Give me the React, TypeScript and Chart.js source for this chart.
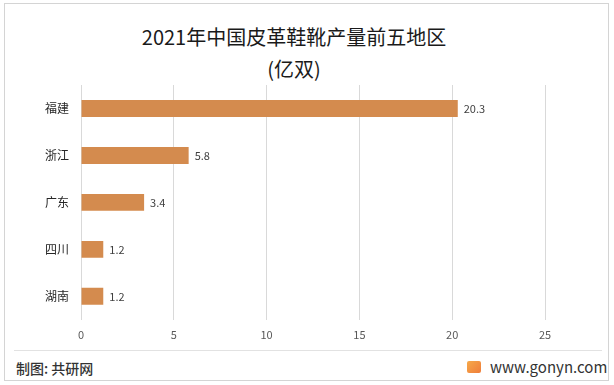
import React, { useEffect, useRef } from "react";
import { Chart, registerables } from "chart.js";

Chart.register(...registerables);

const categories = ["福建", "浙江", "广东", "四川", "湖南"];
const values = [20.3, 5.8, 3.4, 1.2, 1.2];
const titleLines = ["2021年中国皮革鞋靴产量前五地区", "(亿双)"];
const xMax = 25;
const xStep = 5;
const footerLeft = "制图: 共研网";
const footerRight = "www.gonyn.com";

const FONT = "'Noto Sans CJK SC', 'Noto Sans', sans-serif";

const valueLabels = {
  id: "valueLabels",
  afterDatasetsDraw(chart: any) {
    const ctx = chart.ctx;
    const meta = chart.getDatasetMeta(0);
    ctx.save();
    ctx.font = `11px ${FONT}`;
    ctx.fillStyle = "#404040";
    ctx.textAlign = "left";
    ctx.textBaseline = "middle";
    meta.data.forEach((bar: any, i: number) => {
      ctx.fillText(String(values[i]), bar.x + 6, bar.y);
    });
    ctx.restore();
  },
};

export default function App() {
  const ref = useRef<HTMLCanvasElement>(null);
  useEffect(() => {
    if (!ref.current) return;
    const chart = new Chart(ref.current, {
      type: "bar",
      data: {
        labels: categories,
        datasets: [
          {
            data: values,
            backgroundColor: "#D48B4E",
            barPercentage: 0.36,
            categoryPercentage: 1,
          },
        ],
      },
      options: {
        indexAxis: "y",
        animation: false,
        responsive: false,
        maintainAspectRatio: false,
        layout: { padding: { left: 0, right: 69, top: 85, bottom: 0 } },
        plugins: {
          legend: { display: false },
          tooltip: { enabled: false },
          title: { display: false },
        },
        scales: {
          x: {
            min: 0,
            max: xMax,
            ticks: {
              stepSize: xStep,
              color: "#595959",
              font: { family: FONT, size: 11 },
              padding: 8,
            },
            grid: { color: "#d9d9d9", drawTicks: false },
            border: { display: false },
          },
          y: {
            ticks: {
              color: "#262626",
              font: { family: FONT, size: 12 },
              padding: 12,
            },
            grid: { display: false, drawTicks: false },
            border: { display: false },
            afterFit: (scale: any) => {
              scale.width = 81;
            },
          },
        },
      },
      plugins: [valueLabels],
    });
    return () => chart.destroy();
  }, []);

  return (
    <div
      style={{
        position: "fixed",
        left: 0,
        top: 0,
        width: 614,
        height: 385,
        background: "#fff",
        fontFamily: FONT,
        overflow: "hidden",
      }}
    >
      <div
        style={{
          position: "absolute",
          left: 4,
          top: 3,
          width: 603,
          height: 376,
          border: "1px solid #d4d4d4",
        }}
      />
      <div
        style={{
          position: "absolute",
          left: 94,
          width: 400,
          top: 21,
          textAlign: "center",
          fontSize: 20,
          lineHeight: "32px",
          color: "#1a1a1a",
        }}
      >
        <div>{titleLines[0]}</div>
        <div>{titleLines[1]}</div>
      </div>
      <canvas
        ref={ref}
        width={614}
        height={349}
        style={{ position: "absolute", left: 0, top: 0, width: 614, height: 349 }}
      />
      <div
        style={{
          position: "absolute",
          left: 14,
          top: 350,
          width: 588,
          height: 1,
          background: "#e2e2e2",
        }}
      />
      <div
        style={{
          position: "absolute",
          left: 16,
          top: 357,
          fontSize: 14,
          fontWeight: 500,
          color: "#333",
          lineHeight: "22px",
        }}
      >
        {footerLeft}
      </div>
      <div
        style={{
          position: "absolute",
          left: 467,
          top: 361,
          width: 14,
          height: 12,
          borderRadius: 2,
          background: "linear-gradient(135deg, #f6a94a, #ef7d3a)",
        }}
      />
      <div
        style={{
          position: "absolute",
          left: 490,
          top: 356,
          fontSize: 15,
          color: "#333",
          lineHeight: "22px",
        }}
      >
        {footerRight}
      </div>
    </div>
  );
}
